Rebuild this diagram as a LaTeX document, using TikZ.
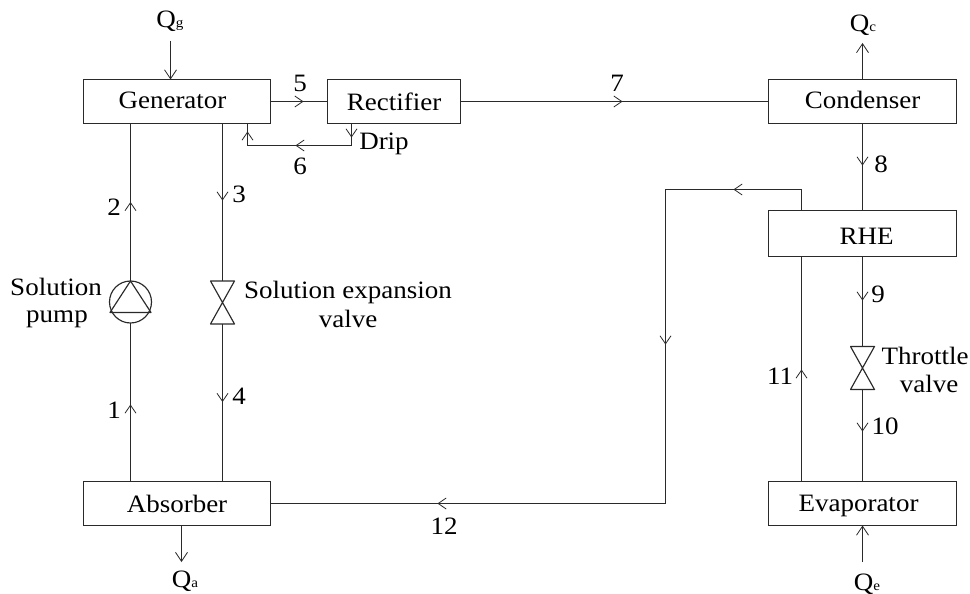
\documentclass[tikz,border=0pt]{standalone}
\usepackage{fontspec}
\setmainfont[FakeStretch=1.08]{Liberation Serif}
\usetikzlibrary{arrows.meta,decorations.markings}
\definecolor{ink}{HTML}{2A2A2A}
\tikzset{
  barb/.tip={Straight Barb[length=8pt,width=11pt]},
  pipe/.style={draw=ink,line width=1.15pt},
  tipat/.style={postaction={decorate,decoration={markings,mark=at position #1 with {\arrow[ink,line width=0.8pt]{barb}}}}},
  unit/.style={draw=ink,line width=1.15pt,rectangle,inner sep=0pt,outer sep=0pt,font=\fontsize{25}{25}\selectfont,text=black,text depth=0pt},
  genbox/.style={unit,minimum width=187pt,minimum height=44pt},
  lab/.style={anchor=base,inner sep=0pt,outer sep=0pt,font=\fontsize{25}{25}\selectfont,text=black},
  spot/.style={inner sep=0pt,outer sep=0pt,minimum width=24pt,minimum height=43pt},
  heat/.style={pipe,-{Straight Barb[length=9pt,width=12pt,line width=0.8pt]}}
}
\newcommand{\heatQ}[1]{Q\fontsize{14}{14}\selectfont #1}
\begin{document}
\begin{tikzpicture}[x=1pt,y=-1pt]
\useasboundingbox[fill=white] (0,0) rectangle (970,594);
% units
\node[genbox,text height=14pt] (gen) at (177,101.5) {\hspace*{-9pt}Generator};
\node[unit,minimum width=133pt,minimum height=44pt,text height=18pt] (rect) at (394,101.5) {Rectifier};
\node[genbox,minimum width=188pt,text height=14pt] (cond) at (862.5,101.5) {Condenser};
\node[genbox,minimum width=188pt,minimum height=46pt,text height=22pt] (rhe) at (862.5,233.5) {\hspace*{8pt}RHE};
\node[genbox,text height=17pt] (abs) at (177,503.5) {Absorber};
\node[genbox,minimum width=188pt,text height=15pt] (evap) at (862.5,503.5) {\hspace*{-8pt}Evaporator};
% pump and valves
\node[draw=ink,line width=1.15pt,circle,inner sep=0pt,outer sep=0pt,minimum size=42pt] (pump) at (130.5,302) {};
\draw[pipe,line join=round] (pump.north) -- (151,312.5) -- (110,312.5) -- cycle;
\node[spot] (sv) at (222.5,302.5) {};
\draw[pipe,line join=round] (sv.north west) -- (sv.north east) -- (sv.south west) -- (sv.south east) -- cycle;
\node[spot] (tv) at (862.5,368) {};
\draw[pipe,line join=round] (tv.north west) -- (tv.north east) -- (tv.south west) -- (tv.south east) -- cycle;
% helper points
\coordinate (dripturn) at (351.5,145.5);
\coordinate (dripend) at (247.5,145.5);
\coordinate (rheout) at (801.5,189.5);
\coordinate (loop) at (665.5,189.5);
\coordinate (qgs) at (170.5,41);
\coordinate (qat) at (181.5,562);
\coordinate (qct) at (862.5,43);
\coordinate (qes) at (862.5,562);
% connectors
\path[pipe,tipat=79pt] (pump.north) -- (pump.north |- gen.south);
\path[pipe,tipat=77pt] (pump.south |- abs.north) -- (pump.south);
\path[pipe,tipat=77pt] (sv.north |- gen.south) -- (sv.north);
\path[pipe,tipat=78pt] (sv.south) -- (sv.south |- abs.north);
\path[pipe,tipat=33pt] (gen.east) -- (rect.west);
\path[pipe,tipat=162pt] (rect.east) -- (cond.west);
\path[pipe,tipat=14pt,tipat=78pt,tipat=140pt] (dripturn |- rect.south) -- (dripturn) -- (dripend) -- (dripend |- gen.south);
\path[pipe,tipat=42pt] (cond.south) -- (rhe.north);
\path[pipe,tipat=44pt] (rhe.south) -- (tv.north);
\path[pipe,tipat=42pt] (tv.south) -- (tv.south |- evap.north);
\path[pipe,tipat=112pt] (rheout |- evap.north) -- (rheout |- rhe.south);
\path[pipe,tipat=89pt,tipat=312pt,tipat=699pt] (rheout |- rhe.north) -- (rheout) -- (loop) -- (loop |- abs.east) -- (abs.east);
\draw[heat] (qgs) -- (qgs |- gen.north);
\draw[heat] (qat |- abs.south) -- (qat);
\draw[heat] (cond.north) -- (qct);
\draw[heat] (qes) -- (evap.south);
% labels
\node[lab] (lqg) at (170,28) {\heatQ{g}};
\node[lab] (lqa) at (185,587) {\heatQ{a}};
\node[lab] (lqc) at (863,32) {\heatQ{c}};
\node[lab] (lqe) at (867,590) {\heatQ{e}};
\node[lab] (n1) at (114,418) {1};
\node[lab] (n2) at (114,215) {2};
\node[lab] (n3) at (239,202) {3};
\node[lab] (n4) at (239,404) {4};
\node[lab] (n5) at (300,92) {5};
\node[lab] (n6) at (300,174) {6};
\node[lab] (n7) at (617,92) {7};
\node[lab] (n8) at (881,172) {8};
\node[lab] (n9) at (878,302) {9};
\node[lab] (n10) at (885,434) {10};
\node[lab] (n11) at (780,384) {11};
\node[lab] (n12) at (444,534) {12};
\node[lab] (drip) at (384,149) {Drip};
\node[lab] (pl1) at (56,295) {Solution};
\node[lab] (pl2) at (57,322) {pump};
\node[lab] (sl1) at (348,298) {Solution expansion};
\node[lab] (sl2) at (348,327) {valve};
\node[lab] (tl1) at (925,364) {Throttle};
\node[lab] (tl2) at (929,392) {valve};
\end{tikzpicture}
\end{document}
